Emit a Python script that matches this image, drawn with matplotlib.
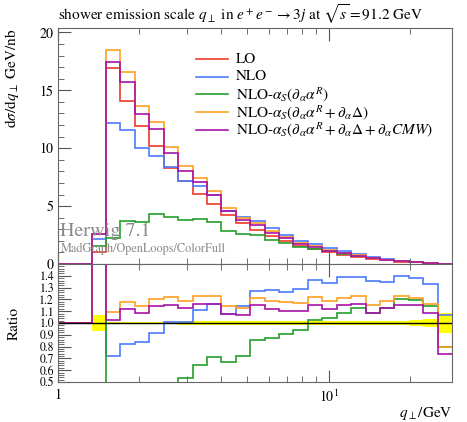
import numpy as np
import matplotlib.pyplot as plt
from matplotlib.ticker import FixedLocator, MultipleLocator, NullFormatter

plt.rcParams['font.family'] = 'STIXGeneral'
plt.rcParams['mathtext.fontset'] = 'stix'

# bin edges in q_perp [GeV]; first bin (1 .. 1.331) is empty
edges = [1.0, 1.331, 1.504, 1.701, 1.923, 2.174, 2.458, 2.779, 3.142, 3.552,
         4.016, 4.540, 5.133, 5.803, 6.561, 7.417, 8.386, 9.481, 10.72, 12.12,
         13.70, 15.49, 17.51, 19.80, 22.38, 25.31, 28.60]

lo = [0.0, 1.02, 16.93, 14.10, 11.95, 10.19, 8.30, 7.15, 6.06, 5.17, 4.25,
      3.55, 2.90, 2.41, 2.01, 1.57, 1.28, 1.04, 0.79, 0.62, 0.45, 0.32,
      0.20, 0.13, 0.07, 0.03]
nlo = [0.0, 2.16, 12.15, 11.57, 9.99, 9.33, 8.35, 7.19, 6.74, 5.99, 4.58,
       4.07, 3.68, 3.08, 2.54, 2.02, 1.75, 1.39, 1.10, 0.86, 0.61, 0.43,
       0.28, 0.18, 0.093, 0.032]
nlo_as_r = [0.0, 1.55, 2.27, 3.71, 3.63, 4.35, 4.10, 3.83, 3.90, 3.67, 2.83,
            2.55, 2.49, 2.11, 1.83, 1.48, 1.31, 1.08, 0.86, 0.70, 0.49, 0.36,
            0.24, 0.155, 0.08, 0.024]
nlo_as_rd = [0.0, 2.62, 18.48, 16.61, 13.67, 12.29, 10.11, 8.49, 7.45, 6.34,
             4.86, 4.01, 3.52, 2.85, 2.36, 1.83, 1.56, 1.23, 0.96, 0.76, 0.52,
             0.38, 0.245, 0.158, 0.081, 0.024]
nlo_as_full = [0.0, 2.59, 17.42, 15.75, 12.95, 11.63, 9.57, 8.05, 7.04, 6.00,
               4.57, 3.78, 3.34, 2.69, 2.22, 1.73, 1.48, 1.16, 0.91, 0.72,
               0.49, 0.36, 0.231, 0.150, 0.076, 0.022]

# relative stat. uncertainty of LO (ratio band)
lo_err = [0.0, 0.068, 0.012, 0.012, 0.012, 0.012, 0.012, 0.014, 0.014, 0.014,
          0.014, 0.014, 0.014, 0.014, 0.014, 0.014, 0.014, 0.016, 0.016,
          0.016, 0.016, 0.016, 0.02, 0.024, 0.03, 0.082]

labels = ["LO", "NLO", r"NLO-$\alpha_S(\partial_\alpha\alpha^R)$",
          r"NLO-$\alpha_S(\partial_\alpha\alpha^R+\partial_\alpha\Delta)$",
          r"NLO-$\alpha_S(\partial_\alpha\alpha^R+\partial_\alpha\Delta+\partial_\alpha CMW)$"]
colors = ["#ee3a2a", "#4a7cff", "#24a02c", "#ffa022", "#a812a8"]
series = [lo, nlo, nlo_as_r, nlo_as_rd, nlo_as_full]

edges = np.array(edges)
lo_arr = np.array(lo)

fig = plt.figure(figsize=(4.67, 4.22), dpi=100)
ax = fig.add_axes([0.1242, 0.3744, 0.8437, 0.5592])
rax = fig.add_axes([0.1242, 0.0948, 0.8437, 0.2796])

for vals, c in zip(series, colors):
    ax.stairs(vals, edges, baseline=None, color=c, lw=1.2)

ax.set_xscale('log')
ax.set_xlim(1, edges[-1])
ax.set_ylim(0, 20.38)
ax.yaxis.set_major_locator(MultipleLocator(5))
ax.yaxis.set_minor_locator(MultipleLocator(1))
ax.xaxis.set_major_formatter(NullFormatter())
ax.xaxis.set_minor_formatter(NullFormatter())
ax.set_ylabel(r"d$\sigma$/d$q_\perp$ GeV/nb", loc='top', fontsize=11)
ax.set_title(r"shower emission scale $q_\perp$ in $e^+e^-\to 3j$ at $\sqrt{s}=91.2$ GeV",
             loc='left', fontsize=11, pad=6)

# legend drawn by hand
for i, (lab, c) in enumerate(zip(labels, colors)):
    yy = (264 - (59 + 17.7 * i)) / 236
    ax.plot([0.350, 0.431], [yy, yy], color=c, lw=1.2, transform=ax.transAxes)
    ax.text(0.452, yy, lab, fontsize=11, va='center', transform=ax.transAxes)

ax.text(0.006, 0.118, "Herwig 7.1", fontsize=14.5, color='#8a8a8a', transform=ax.transAxes)
ax.text(0.006, 0.052, "MadGraph/OpenLoops/ColorFull", fontsize=8.8, color='#8a8a8a',
        transform=ax.transAxes)

# ratio panel
rax.stairs(1 + np.array(lo_err), edges, baseline=1 - np.array(lo_err),
           fill=True, color='#ffff00', lw=0)
rax.axhline(1.0, color='black', lw=1.0)
for vals, c in zip(series[1:], colors[1:]):
    r = np.where(lo_arr > 0, np.array(vals) / np.where(lo_arr > 0, lo_arr, 1), 1.0)
    rax.stairs(r, edges, baseline=None, color=c, lw=1.2)

rax.set_xscale('log')
rax.set_xlim(1, edges[-1])
rax.set_ylim(0.5, 1.5)
rax.yaxis.set_major_locator(FixedLocator(np.arange(0.5, 1.45, 0.1)))
rax.yaxis.set_major_formatter(plt.FormatStrFormatter('%.1f'))
rax.yaxis.set_minor_locator(MultipleLocator(0.02))
rax.xaxis.set_major_locator(FixedLocator([1, 10]))
rax.set_xticklabels(["1", r"$10^1$"])
rax.xaxis.set_minor_formatter(NullFormatter())
rax.set_ylabel("Ratio", fontsize=11)
rax.set_xlabel(r"$q_\perp$/GeV", loc='right', fontsize=11, labelpad=0)

for a in (ax, rax):
    for s in a.spines.values():
        s.set_color('#666666')
    a.tick_params(which='both', direction='in', top=True, right=False,
                  colors='#555555', labelcolor='black', labelsize=10)
    a.tick_params(which='major', length=9, width=0.8)
    a.tick_params(which='minor', length=4.5, width=0.6)
rax.tick_params(axis='y', labelsize=8.5, pad=3)
rax.tick_params(axis='x', pad=5)
ax.yaxis.set_label_coords(-0.095, 1.0)
rax.yaxis.set_label_coords(-0.095, 0.5)

fig.savefig("out.png", dpi=100)
